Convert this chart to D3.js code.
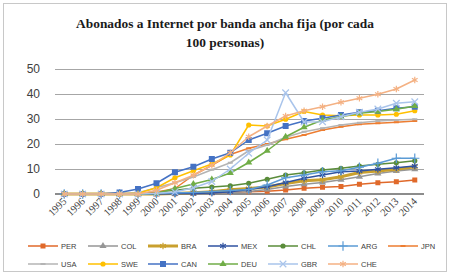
<!DOCTYPE html>
<html>
<head>
<meta charset="utf-8">
<script src="https://cdn.jsdelivr.net/npm/d3@7"></script>
<style>
  body { margin: 0; background: #fff; }
</style>
</head>
<body>
<script>
const WIDTH  = 455;
const HEIGHT = 277;

// datos (abonados por cada 100 personas)
const years = ['1995','1996','1997','1998','1999','2000','2001','2002','2003','2004',
               '2005','2006','2007','2008','2009','2010','2011','2012','2013','2014'];
const yTicks = [0, 10, 20, 30, 40, 50];

const PER = [0,0,0,0,0,0,0.1,0.3,0.5,0.7,0.9,1.1,1.6,2.3,2.7,3.0,3.9,4.5,4.9,5.6];
const COL = [0,0,0,0,0,0,0.1,0.2,0.4,0.6,1.0,1.8,3.0,3.9,4.6,5.7,6.9,8.2,9.2,9.9];
const BRA = [0,0,0,0,0,0,0.2,0.5,0.9,1.7,2.2,2.8,4.2,5.3,5.7,6.9,8.6,9.2,9.9,10.9];
const MEX = [0,0,0,0,0,0,0.1,0.2,0.4,0.9,1.8,2.9,4.6,6.3,7.6,8.9,9.2,9.9,10.5,11.2];
const CHL = [0,0,0,0,0,0.8,1.5,2.3,2.8,3.3,4.3,5.9,7.6,8.5,9.6,10.3,11.2,11.9,12.5,13.3];
const ARG = [0,0,0,0,0,0.2,0.5,0.6,1.0,1.4,1.8,3.6,6.5,7.6,8.9,9.3,10.7,12.3,14.3,14.3];
const JPN = [0,0,0,0,0,0.7,2.2,7.5,11.5,15.8,18.3,20.0,21.9,23.6,25.6,26.9,27.9,28.3,28.7,29.2];
const USA = [0,0,0,0,0.5,2.5,4.5,6.8,9.7,12.5,17.3,19.6,22.7,24.9,26.3,27.6,28.5,29.2,29.6,29.9];
const SWE = [0,0,0,0,0.3,2.5,6.5,9.3,12.0,15.6,27.6,27.2,29.9,33.0,31.6,31.3,31.6,31.6,31.9,33.3];
const CAN = [0,0,0,0.6,2.0,4.3,8.7,10.9,14.0,16.5,21.6,24.3,27.2,29.2,30.3,31.6,32.7,33.3,34.3,34.9];
const DEU = [0,0,0,0,0,0.3,2.2,4.0,5.8,8.4,12.6,17.3,22.9,26.7,29.6,30.9,32.3,33.0,33.9,35.2];
const GBR = [0,0,0,0,0,0.3,0.8,2.5,5.0,10.0,16.3,21.6,40.5,28.8,28.9,30.9,32.7,34.0,36.3,36.9];
const CHE = [0,0,0,0,0,1.5,4.5,7.5,11.5,16.5,22.9,27.2,31.2,33.3,34.9,36.7,38.3,39.9,42.0,45.6];

const seriesNames = ['PER','COL','BRA','MEX','CHL','ARG','JPN','USA','SWE','CAN','DEU','GBR','CHE'];
const seriesValues = [PER, COL, BRA, MEX, CHL, ARG, JPN, USA, SWE, CAN, DEU, GBR, CHE];

// estilo de cada serie (color, marcador)
const styles = {
  PER: { color: '#e0692a', mark: 'square', w: 1.5 },
  COL: { color: '#969696', mark: 'triangle', w: 1.5 },
  BRA: { color: '#c9a02e', mark: 'asterisk', w: 3 },
  MEX: { color: '#2f52a0', mark: 'asterisk', w: 1.5 },
  CHL: { color: '#5a8c3a', mark: 'circle', w: 1.5 },
  ARG: { color: '#5b9bd5', mark: 'plus', w: 1.5 },
  JPN: { color: '#ed7d31', mark: 'dash', w: 1.5 },
  USA: { color: '#b4b4b4', mark: 'dash', w: 1.5 },
  SWE: { color: '#ffc000', mark: 'circle', w: 1.5 },
  CAN: { color: '#4472c4', mark: 'bigsquare', w: 1.5 },
  DEU: { color: '#70ad47', mark: 'triangle', w: 1.5 },
  GBR: { color: '#a9c4eb', mark: 'x', w: 1.5 },
  CHE: { color: '#f4b183', mark: 'asterisk', w: 1.5 }
};

let svg = d3.select('body').append('svg')
            .attr('width', WIDTH)
            .attr('height', HEIGHT);

// marco
svg.append('rect')
   .attr('x', 3.5).attr('y', 3.5)
   .attr('width', 443).attr('height', 268)
   .attr('fill', '#fff')
   .attr('stroke', '#c8c8c8');

// título
let title = svg.append('text')
   .attr('text-anchor', 'middle')
   .style('font-family', '"Liberation Serif", "Times New Roman", serif')
   .style('font-weight', 'bold')
   .style('font-size', '13.4px')
   .attr('fill', '#1a1a1a');
title.append('tspan').attr('x', 225).attr('y', 28).text('Abonados a Internet por banda ancha fija (por cada');
title.append('tspan').attr('x', 225).attr('y', 47).text('100 personas)');

let x = d3.scalePoint()
          .domain(years)
          .range([55, 424])
          .padding(0.5);

let y = d3.scaleLinear()
          .domain([0, 50])
          .range([194, 69]);

// líneas de cuadrícula
svg.append('g').selectAll('line')
   .data(yTicks.filter(d => d > 0))
   .join('line')
   .attr('x1', 55).attr('x2', 424)
   .attr('y1', d => Math.round(y(d)) + 0.5)
   .attr('y2', d => Math.round(y(d)) + 0.5)
   .attr('stroke', '#a6a6a6')
   .attr('stroke-width', 1);

// etiquetas eje y
svg.append('g').selectAll('text')
   .data(yTicks)
   .join('text')
   .attr('x', 40)
   .attr('y', d => y(d) + 4)
   .attr('text-anchor', 'end')
   .style('font-family', '"Liberation Sans", Arial, sans-serif')
   .style('font-size', '12px')
   .attr('fill', '#404040')
   .text(d => d);

// etiquetas eje x (rotadas)
svg.append('g').selectAll('text')
   .data(years)
   .join('text')
   .attr('transform', d => `translate(${x(d) + 3},${202}) rotate(-45)`)
   .attr('text-anchor', 'end')
   .style('font-family', '"Liberation Serif", "Times New Roman", serif')
   .style('font-size', '10.5px')
   .attr('fill', '#404040')
   .text(d => d);

function drawMarker(g, mark, color, cx, cy) {
  if (mark === 'square') {
    g.append('rect').attr('x', cx - 2.5).attr('y', cy - 2.5).attr('width', 5).attr('height', 5).attr('fill', color);
  } else if (mark === 'bigsquare') {
    g.append('rect').attr('x', cx - 3).attr('y', cy - 3).attr('width', 6).attr('height', 6).attr('fill', color);
  } else if (mark === 'triangle') {
    g.append('path').attr('transform', `translate(${cx},${cy})`)
     .attr('d', d3.symbol(d3.symbolTriangle, 22)()).attr('fill', color);
  } else if (mark === 'circle') {
    g.append('circle').attr('cx', cx).attr('cy', cy).attr('r', 2.6).attr('fill', color);
  } else if (mark === 'dash') {
    g.append('rect').attr('x', cx - 2.5).attr('y', cy - 1).attr('width', 5).attr('height', 2).attr('fill', color);
  } else {
    let sym = mark === 'x' ? d3.symbolX : (mark === 'plus' ? d3.symbolPlus : d3.symbolAsterisk);
    g.append('path').attr('transform', `translate(${cx},${cy})`)
     .attr('d', d3.symbol(sym, 30)())
     .attr('fill', 'none').attr('stroke', color).attr('stroke-width', 1.2);
  }
}

let line = d3.line()
             .x((d, i) => x(years[i]))
             .y(d => y(d));

// eje 0
svg.append('line')
   .attr('x1', 55).attr('x2', 424)
   .attr('y1', y(0)).attr('y2', y(0))
   .attr('stroke', '#8c8c8c')
   .attr('stroke-width', 2);

seriesNames.forEach((name, k) => {
  let st = styles[name];
  let vals = seriesValues[k];
  let g = svg.append('g');
  g.append('path')
   .attr('d', line(vals))
   .attr('fill', 'none')
   .attr('stroke', st.color)
   .attr('stroke-width', st.w)
   .attr('stroke-linejoin', 'round');
  vals.forEach((v, i) => drawMarker(g, st.mark, st.color, x(years[i]), y(v)));
});

// leyenda
seriesNames.forEach((name, k) => {
  let st = styles[name];
  let row = k < 7 ? 0 : 1;
  let col = k < 7 ? k : k - 7;
  let lx = 28 + col * 60;
  let ly = row === 0 ? 246 : 264;
  let g = svg.append('g');
  g.append('line')
   .attr('x1', lx).attr('x2', lx + 30)
   .attr('y1', ly).attr('y2', ly)
   .attr('stroke', st.color)
   .attr('stroke-width', st.w);
  drawMarker(g, st.mark, st.color, lx + 15, ly);
  g.append('text')
   .attr('x', lx + 33)
   .attr('y', ly + 3)
   .style('font-family', '"Liberation Sans", Arial, sans-serif')
   .style('font-size', '7.5px')
   .attr('fill', '#404040')
   .text(name);
});
</script>
</body>
</html>
